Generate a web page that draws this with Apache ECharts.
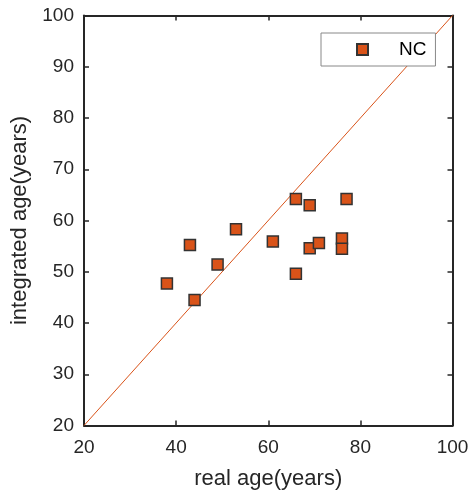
<!DOCTYPE html>
<html>
<head>
<meta charset="utf-8">
<script src="https://cdn.jsdelivr.net/npm/echarts@6/dist/echarts.min.js"></script>
<style>
  html, body { margin: 0; padding: 0; background: #fff; }
  #chart { width: 472px; height: 500px; }
</style>
</head>
<body>
<div id="chart"></div>
<script>
// real age vs integrated age, NC group
var realAge = [38, 44, 43, 49, 53, 61, 66, 66, 69, 69, 71, 76, 76, 77];
var integratedAge = [47.7, 44.5, 55.2, 51.4, 58.3, 55.9, 64.2, 49.6, 63.0, 54.6, 55.6, 56.5, 54.5, 64.2];
var identityLine = [20, 100];
var axisTicks = [20, 100, 10, 20]; // min, max, yInterval, xInterval

var ink = '#262626';
var orange = '#D95319';
var font = 'Liberation Sans, Arial, sans-serif';

var points = realAge.map(function (x, i) { return [x, integratedAge[i]]; });
var diag = identityLine.map(function (v) { return [v, v]; });

function axisBase(show) {
  return {
    type: 'value', min: axisTicks[0], max: axisTicks[1],
    axisLine: { show: true, onZero: false, lineStyle: { color: ink, width: 2 } },
    axisTick: { show: true, inside: true, length: 5, lineStyle: { color: ink, width: 1.5 } },
    axisLabel: { show: show, color: ink, fontSize: 19, fontFamily: font },
    splitLine: { show: false }
  };
}

var xBottom = axisBase(true);
xBottom.interval = axisTicks[3];
xBottom.position = 'bottom';
xBottom.axisLabel.margin = 13;
xBottom.name = 'real age(years)';
xBottom.nameLocation = 'middle';
xBottom.nameGap = 42;
xBottom.nameTextStyle = { color: ink, fontSize: 22, fontFamily: font };

var xTop = axisBase(false);
xTop.interval = axisTicks[3];
xTop.position = 'top';

var yLeft = axisBase(true);
yLeft.interval = axisTicks[2];
yLeft.position = 'left';
yLeft.axisLabel.margin = 10;
yLeft.name = 'integrated age(years)';
yLeft.nameLocation = 'middle';
yLeft.nameGap = 50;
yLeft.nameTextStyle = { color: ink, fontSize: 22, fontFamily: font };

var yRight = axisBase(false);
yRight.interval = axisTicks[2];
yRight.position = 'right';

var chart = echarts.init(document.getElementById('chart'));
chart.setOption({
  animation: false,
  backgroundColor: '#fff',
  grid: { left: 84, right: 19.5, top: 15.5, bottom: 74.5 },
  legend: {
    data: ['NC'],
    left: 321, top: 33,
    padding: [7, 9, 7, 35],
    borderColor: '#888', borderWidth: 1,
    backgroundColor: '#fff',
    itemWidth: 11, itemHeight: 11,
    icon: 'rect',
    textStyle: { color: '#000', fontSize: 19, fontFamily: font, padding: [0, 0, 0, 26] }
  },
  xAxis: [xBottom, xTop],
  yAxis: [yLeft, yRight],
  series: [
    {
      type: 'line', data: diag, symbol: 'none', silent: true,
      lineStyle: { color: orange, width: 1 }, z: 1
    },
    {
      name: 'NC', type: 'scatter', data: points,
      symbol: 'rect', symbolSize: 11,
      itemStyle: { color: orange, borderColor: '#333', borderWidth: 1.5, opacity: 1 },
      z: 3
    }
  ]
});
</script>
</body>
</html>
